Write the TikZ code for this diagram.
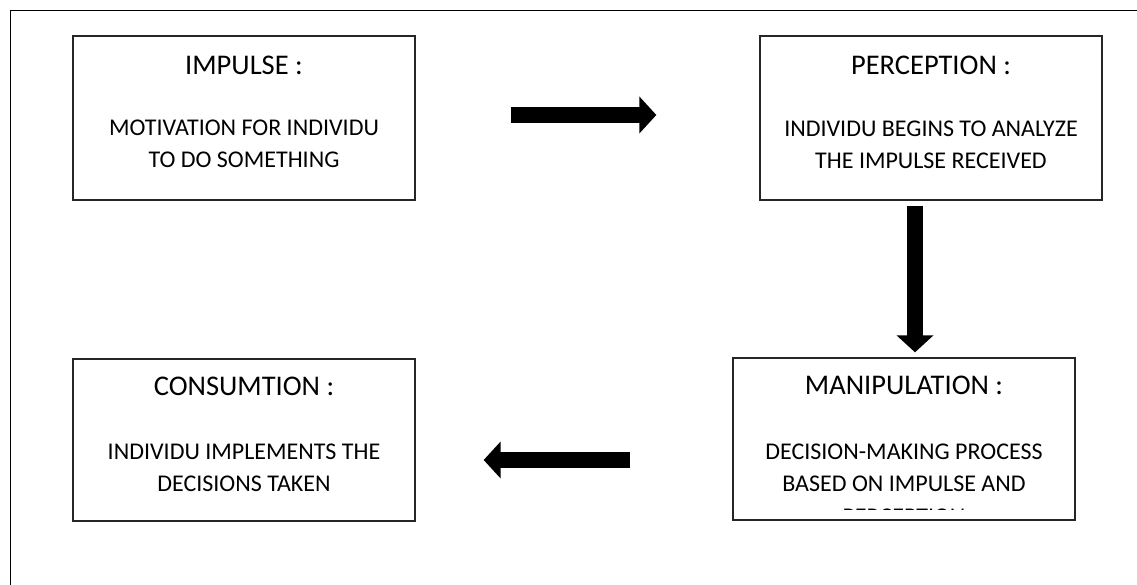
\documentclass[tikz,border=0pt]{standalone}
\usepackage{fontspec}
\setmainfont{Carlito}
\usetikzlibrary{arrows.meta}

\begin{document}
\begin{tikzpicture}[
	x=1pt, y=1pt,
	stage/.style = {draw=black!85, line width=1.3pt, minimum width=342pt, minimum height=164pt, inner sep=0pt},
	stagetitle/.style = {anchor=base, inner sep=0pt, font=\fontsize{28.5pt}{34pt}\selectfont},
	stagetext/.style = {anchor=base, inner sep=0pt, align=center, font=\fontsize{24pt}{32.5pt}\selectfont},
	blockarrow/.style = {line width=16pt, -{Triangle[width=36pt,length=17pt]}}
	]
	\useasboundingbox (0,0) rectangle (1137,585);
	\draw[line width=1.3pt] (10.5,0) -- (10.5,574.5) -- (1137,574.5);

	\node[stage] (impulse) at (244,467) {};
	\node[stage] (perception) at (931,467) {};
	\node[stage, minimum height=162pt] (manip) at (904,146) {};
	\node[stage, minimum height=162pt] (consum) at (244,145) {};

	% body nodes sit on the baseline of their last line
	\node[stagetitle] (impulse-t) at ([yshift=-39pt]impulse.north) {IMPULSE :};
	\node[stagetext] (impulse-b) at ([yshift=-132.5pt]impulse.north) {MOTIVATION FOR INDIVIDU\\TO DO SOMETHING};
	\node[stagetitle] (perception-t) at ([yshift=-39pt]perception.north) {PERCEPTION :};
	\node[stagetext] (perception-b) at ([yshift=-133.5pt]perception.north) {INDIVIDU BEGINS TO ANALYZE\\THE IMPULSE RECEIVED};
	\node[stagetitle] (manip-t) at ([yshift=-37pt]manip.north) {MANIPULATION :};
	\begin{scope}
		\clip ([yshift=11pt]manip.south west) rectangle (manip.north east);
		\node[stagetext] (manip-b) at ([yshift=-167pt]manip.north) {DECISION-MAKING PROCESS\\BASED ON IMPULSE AND\\PERCEPTION};
	\end{scope}
	\node[stagetitle] (consum-t) at ([yshift=-37pt]consum.north) {CONSUMTION :};
	\node[stagetext] (consum-b) at ([yshift=-133.5pt]consum.north) {INDIVIDU IMPLEMENTS THE\\DECISIONS TAKEN};

	\draw[blockarrow, shorten <=95pt, shorten >=103pt] ([yshift=3pt]impulse.east) -- ([yshift=3pt]perception.west);
	\draw[blockarrow, shorten <=5pt, shorten >=5pt] ([xshift=-16pt]perception.south) -- ([xshift=-16pt]perception.south |- manip.north);
	\draw[blockarrow, shorten <=102pt, shorten >=68pt] ([yshift=-21pt]manip.west) -- ([yshift=-21pt]manip.west -| consum.east);
\end{tikzpicture}
\end{document}
